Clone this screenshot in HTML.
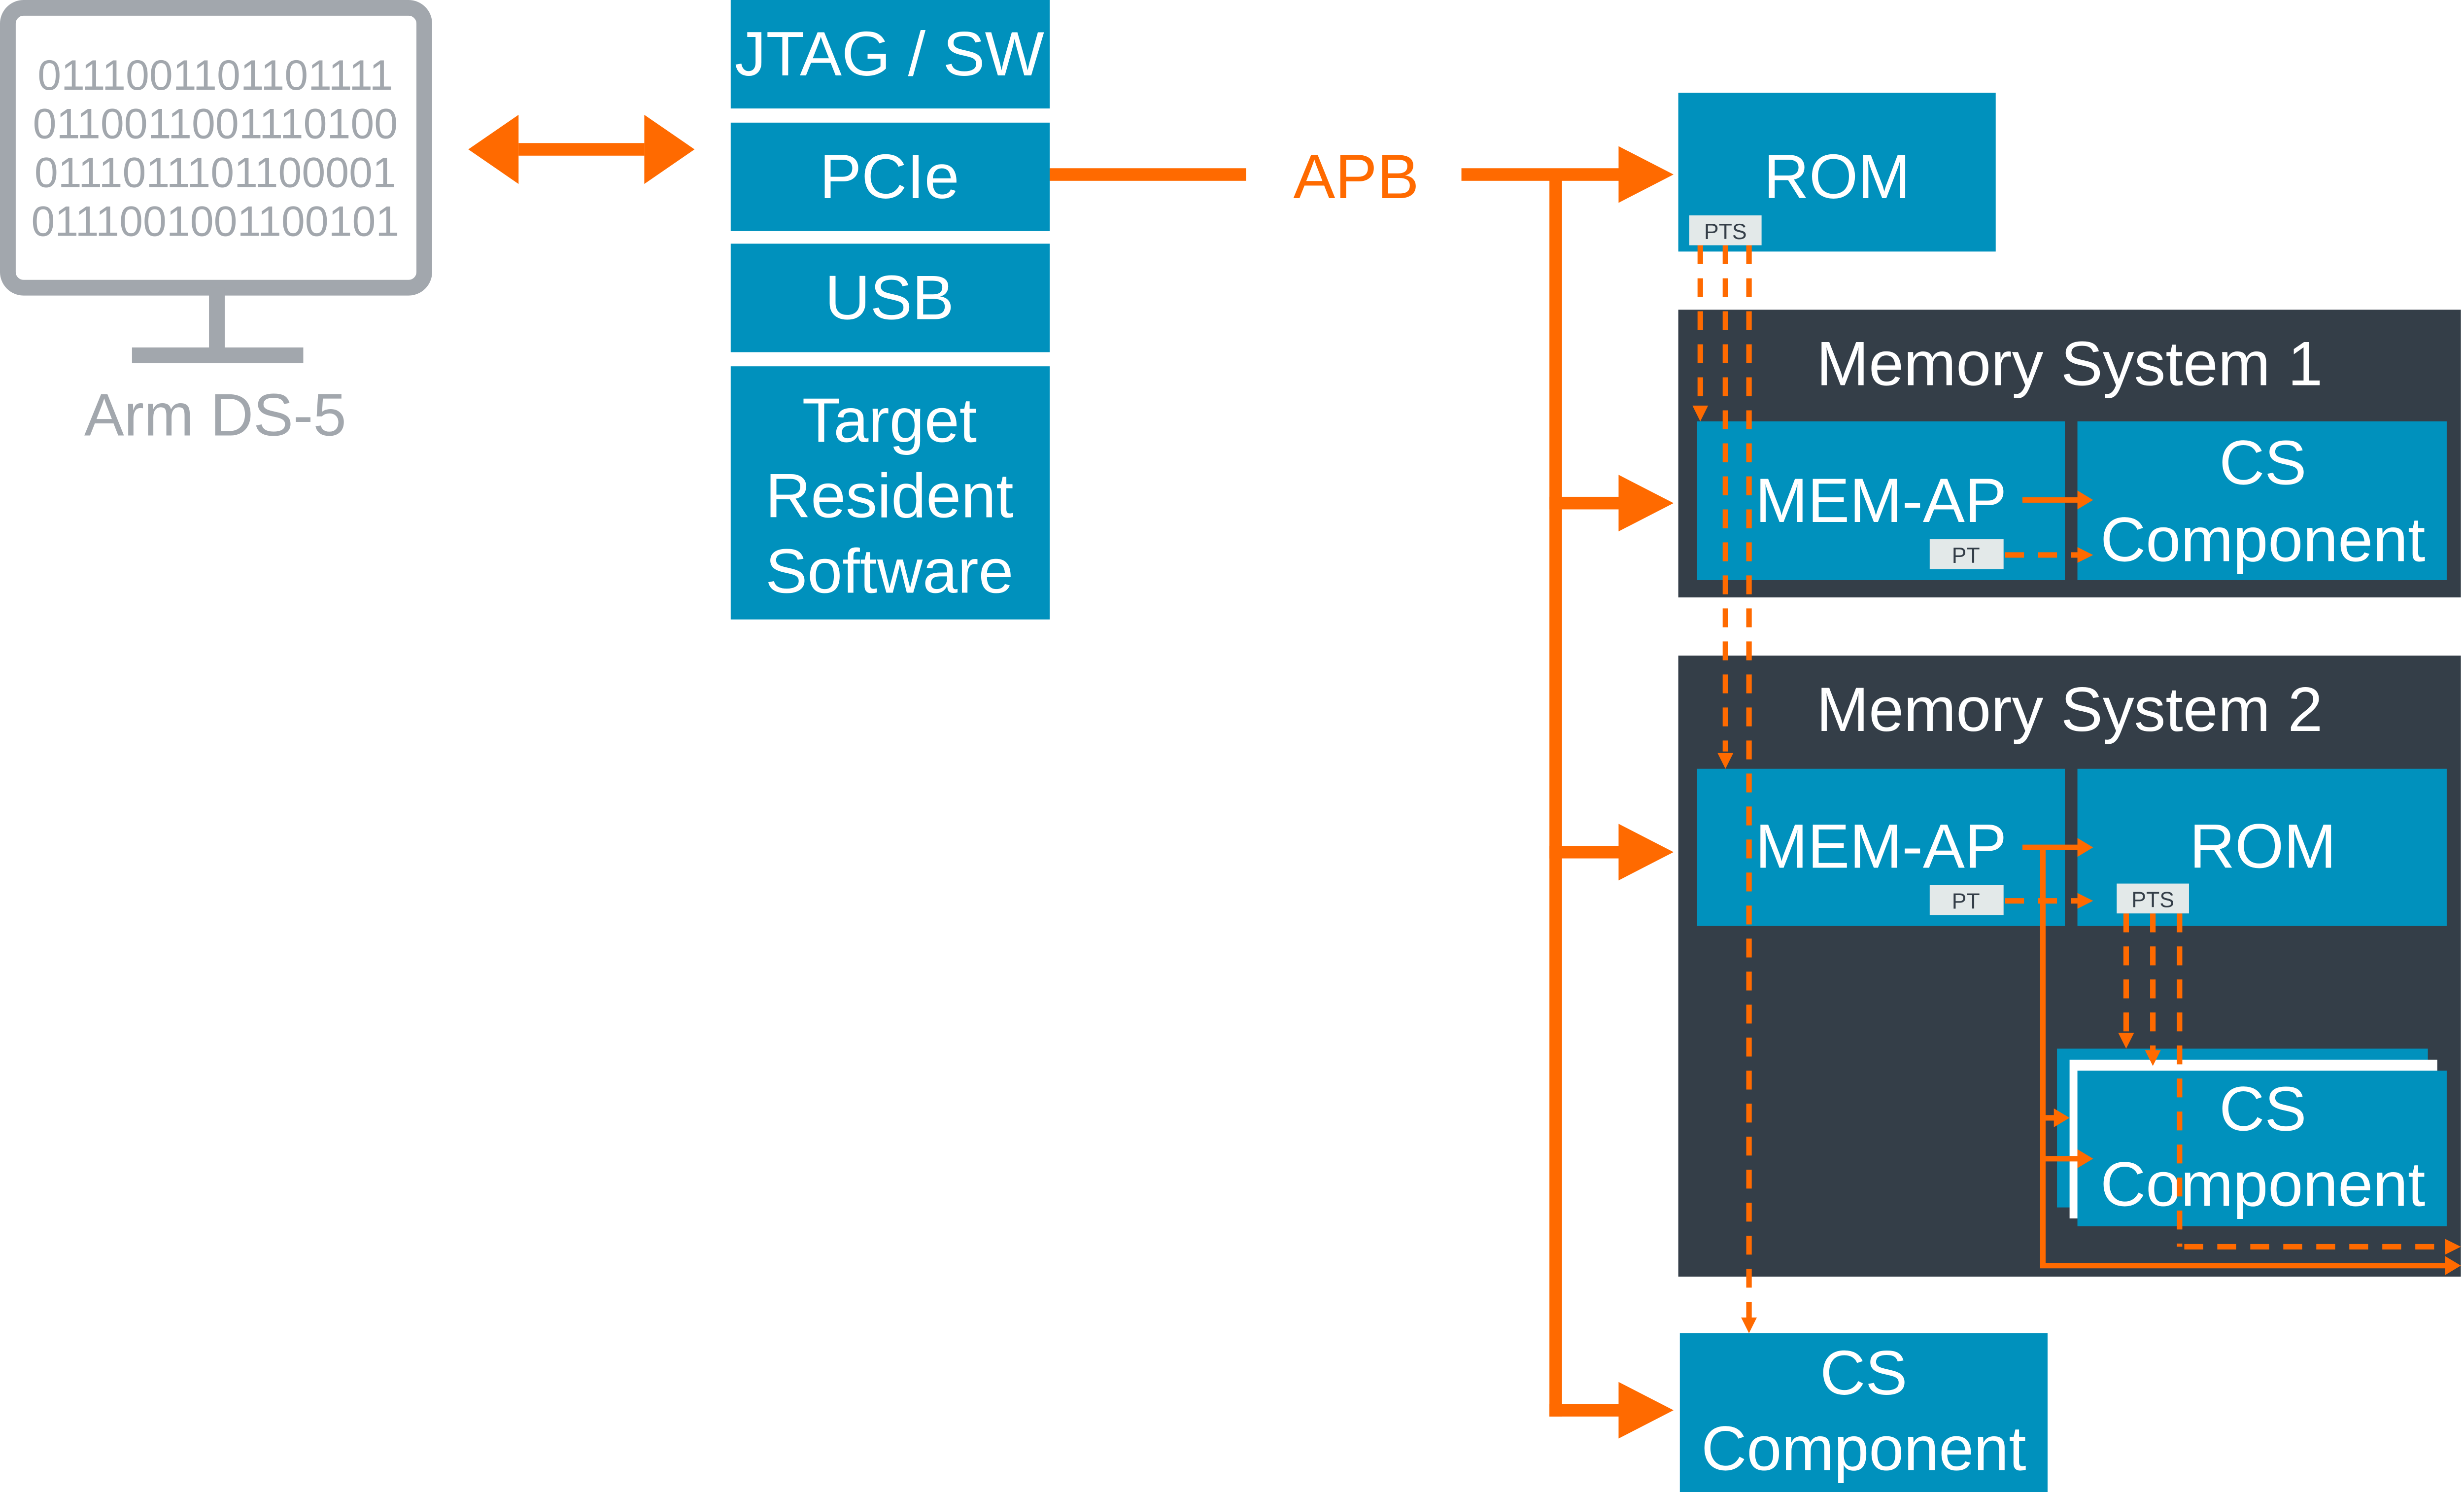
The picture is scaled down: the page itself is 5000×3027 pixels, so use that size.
<!DOCTYPE html>
<html><head><meta charset="utf-8"><style>
html,body{margin:0;padding:0;background:#fff}
svg{display:block}
text{font-family:"Liberation Sans",sans-serif}
</style></head><body>
<svg width="5000" height="3027" viewBox="0 0 1568 949" preserveAspectRatio="none" xmlns="http://www.w3.org/2000/svg">
<!-- monitor -->
<rect x="5" y="5" width="265" height="178" rx="10" fill="none" stroke="#a2a7ad" stroke-width="10"/>
<rect x="133" y="183" width="10" height="42" fill="#a2a7ad"/>
<rect x="84" y="221" width="109" height="10" fill="#a2a7ad"/>
<g fill="#a2a7ad" font-size="27" text-anchor="middle">
<text x="137" y="57">0111001101101111</text>
<text x="137" y="88">0110011001110100</text>
<text x="137" y="119">0111011101100001</text>
<text x="137" y="150">0111001001100101</text>
</g>
<text x="137" y="277" font-size="38" fill="#a2a7ad" text-anchor="middle">Arm DS-5</text>
<!-- double arrow -->
<rect x="330" y="91" width="80" height="8" fill="#ff6a00"/>
<polygon points="298,95 330,73 330,117" fill="#ff6a00"/>
<polygon points="442,95 410,73 410,117" fill="#ff6a00"/>
<!-- left boxes -->
<g fill="#0091bd">
<rect x="465" y="0" width="203" height="69"/>
<rect x="465" y="78" width="203" height="69"/>
<rect x="465" y="155" width="203" height="69"/>
<rect x="465" y="233" width="203" height="161"/>
</g>
<g fill="#fff" font-size="40" text-anchor="middle">
<text x="566" y="48">JTAG / SW</text>
<text x="566" y="126">PCIe</text>
<text x="566" y="203">USB</text>
<text x="566" y="281">Target</text>
<text x="566" y="329">Resident</text>
<text x="566" y="377">Software</text>
</g>
<!-- APB bus -->
<g fill="#ff6a00">
<rect x="668" y="107" width="125" height="8"/>
<text x="863" y="126" font-size="40" text-anchor="middle">APB</text>
<rect x="930" y="107" width="105" height="8"/>
<polygon points="1030,93 1065,111 1030,129"/>
<rect x="986" y="111" width="8" height="790"/>
<rect x="986" y="316" width="50" height="8"/>
<polygon points="1030,302 1065,320 1030,338"/>
<rect x="986" y="538" width="50" height="8"/>
<polygon points="1030,524 1065,542 1030,560"/>
<rect x="986" y="893" width="50" height="8"/>
<polygon points="1030,879 1065,897 1030,915"/>
</g>
<!-- ROM -->
<rect x="1068" y="59" width="202" height="101" fill="#0091bd"/>
<text x="1169" y="126" font-size="40" fill="#fff" text-anchor="middle">ROM</text>
<!-- MS1 -->
<rect x="1068" y="197" width="498" height="183" fill="#343e48"/>
<text x="1317" y="245" font-size="40" fill="#fff" text-anchor="middle">Memory System 1</text>
<rect x="1080" y="268" width="234" height="101" fill="#0091bd"/>
<rect x="1322" y="268" width="235" height="101" fill="#0091bd"/>
<text x="1197" y="332" font-size="40" fill="#fff" text-anchor="middle">MEM-AP</text>
<text x="1440" y="308" font-size="40" fill="#fff" text-anchor="middle">CS</text>
<text x="1440" y="357" font-size="40" fill="#fff" text-anchor="middle">Component</text>
<!-- MS2 -->
<rect x="1068" y="417" width="498" height="395" fill="#343e48"/>
<text x="1317" y="465" font-size="40" fill="#fff" text-anchor="middle">Memory System 2</text>
<rect x="1080" y="489" width="234" height="100" fill="#0091bd"/>
<rect x="1322" y="489" width="235" height="100" fill="#0091bd"/>
<text x="1197" y="552" font-size="40" fill="#fff" text-anchor="middle">MEM-AP</text>
<text x="1440" y="552" font-size="40" fill="#fff" text-anchor="middle">ROM</text>
<rect x="1309" y="667" width="236" height="101" fill="#0091bd"/>
<rect x="1317" y="674" width="234" height="101" fill="#fff"/>
<rect x="1322" y="681" width="235" height="99" fill="#0091bd"/>
<text x="1440" y="719" font-size="40" fill="#fff" text-anchor="middle">CS</text>
<text x="1440" y="767" font-size="40" fill="#fff" text-anchor="middle">Component</text>
<!-- bottom CS -->
<rect x="1069" y="848" width="234" height="101" fill="#0091bd"/>
<text x="1186" y="887" font-size="40" fill="#fff" text-anchor="middle">CS</text>
<text x="1186" y="935" font-size="40" fill="#fff" text-anchor="middle">Component</text>
<!-- dashed lines -->
<g stroke="#ff6a00" stroke-width="3.5" stroke-dasharray="12,9" fill="none">
<line x1="1082" y1="156" x2="1082" y2="258"/>
<line x1="1098" y1="156" x2="1098" y2="478"/>
<line x1="1113" y1="156" x2="1113" y2="838"/>
<line x1="1276" y1="353" x2="1322" y2="353"/>
<line x1="1276" y1="573" x2="1322" y2="573"/>
<line x1="1353" y1="581" x2="1353" y2="657"/>
<line x1="1370" y1="581" x2="1370" y2="668"/>
<line x1="1387" y1="581" x2="1387" y2="793"/>
<line x1="1390" y1="793" x2="1556" y2="793"/>
</g>
<g fill="#ff6a00">
<polygon points="1077,258 1087,258 1082,268"/>
<polygon points="1093,479 1103,479 1098,489"/>
<polygon points="1108,838 1118,838 1113,848"/>
<polygon points="1322,348 1332,353 1322,358"/>
<polygon points="1322,568 1332,573 1322,578"/>
<polygon points="1348,657 1358,657 1353,667"/>
<polygon points="1365,668 1375,668 1370,678"/>
<polygon points="1556,788 1566,793 1556,798"/>
</g>
<!-- solid arrows -->
<g stroke="#ff6a00" stroke-width="3.5" fill="none">
<line x1="1287" y1="318" x2="1324" y2="318"/>
<line x1="1287" y1="539" x2="1324" y2="539"/>
<polyline points="1300,539 1300,805 1558,805"/>
<line x1="1300" y1="711" x2="1310" y2="711"/>
<line x1="1300" y1="737" x2="1324" y2="737"/>
</g>
<g fill="#ff6a00">
<polygon points="1322,312 1332,318 1322,324"/>
<polygon points="1322,533 1332,539 1322,545"/>
<polygon points="1307,705 1317,711 1307,717"/>
<polygon points="1322,731 1332,737 1322,743"/>
<polygon points="1556,799 1566,805 1556,811"/>
</g>
<!-- labels -->
<rect x="1075" y="137" width="46" height="19" fill="#e3e9e9"/>
<text x="1098" y="152" font-size="14" fill="#343e48" text-anchor="middle">PTS</text>
<rect x="1228" y="343" width="47" height="19" fill="#e3e9e9"/>
<text x="1251" y="358" font-size="14" fill="#343e48" text-anchor="middle">PT</text>
<rect x="1228" y="563" width="47" height="19" fill="#e3e9e9"/>
<text x="1251" y="578" font-size="14" fill="#343e48" text-anchor="middle">PT</text>
<rect x="1347" y="562" width="46" height="19" fill="#e3e9e9"/>
<text x="1370" y="577" font-size="14" fill="#343e48" text-anchor="middle">PTS</text>
</svg>
</body></html>
